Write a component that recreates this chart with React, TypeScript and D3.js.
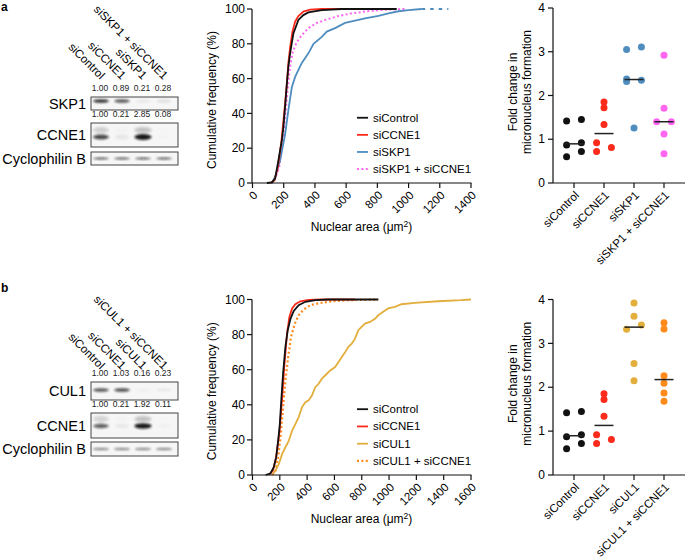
import React from 'react';
import * as d3 from 'd3';

const W = 685, H = 558;
const FONT = "'Liberation Sans', Arial, Helvetica, sans-serif";

// ---------- Blot data ----------
const lanesA = ['siControl', 'siCCNE1', 'siSKP1', 'siSKP1 + siCCNE1'];
const lanesB = ['siControl', 'siCCNE1', 'siCUL1', 'siCUL1 + siCCNE1'];
const skp1Quant = [1.0, 0.89, 0.21, 0.28];
const ccne1QuantA = [1.0, 0.21, 2.85, 0.08];
const cul1Quant = [1.0, 1.03, 0.16, 0.23];
const ccne1QuantB = [1.0, 0.21, 1.92, 0.11];
const cycloQuant = [1, 1, 1, 1];
const quantLabelsA1 = ['1.00', '0.89', '0.21', '0.28'];
const quantLabelsA2 = ['1.00', '0.21', '2.85', '0.08'];
const quantLabelsB1 = ['1.00', '1.03', '0.16', '0.23'];
const quantLabelsB2 = ['1.00', '0.21', '1.92', '0.11'];

// ---------- CDF data (nuclear area um^2, cumulative %) ----------
const cdfCtrlA: [number, number][] = [[92,0],[124,0.4],[145,2.5],[166,13],[188,24.6],[198,32],[209,44],[220,57],[230,67],[241,74.5],[262,86],[294,93.7],[326,96.5],[358,98],[444,99.4],[572,100],[924,100]];
const cdfCcneA: [number, number][] = [[113,0],[141,1.5],[162,9],[184,22.6],[205,42],[220,57],[230,69],[241,78],[256,87],[273,92.7],[294,96],[326,98.5],[369,99.6],[444,100],[700,100]];
const cdfSkpA: [number, number][] = [[124,0],[145,3.5],[177,13],[209,28],[230,42],[252,55],[273,61],[316,69],[358,74.5],[391,80],[444,84],[476,87],[529,89],[593,92],[657,93.3],[721,94.6],[807,96],[871,97.5],[935,98.7],[999,99.4],[1084,100]];
const cdfSkpTailA: [number, number][] = [[1084,100],[1255,100]];
const cdfSkpCcneA: [number, number][] = [[124,0],[149,3.5],[171,9],[192,22.6],[213,42],[226,55],[241,67],[258,75.4],[284,81],[316,85],[358,89],[412,92],[476,94],[551,96],[636,97.5],[742,98.8],[849,99.6],[977,100]];

const cdfCtrlB: [number, number][] = [[96,0],[132,1],[156,4.4],[173,10],[188,19.6],[200,29],[212,44],[224,58],[241,73],[258,82.5],[278,89],[302,93.5],[338,96.8],[387,98.7],[460,99.6],[557,100],[921,100]];
const cdfCcneB: [number, number][] = [[120,0],[149,2.5],[173,10],[198,25],[217,44],[234,63],[253,80.6],[270,90],[290,94.9],[314,97.3],[350,99],[411,99.8],[508,100],[751,100]];
const cdfCulB: [number, number][] = [[144,0],[168,2.5],[193,6.3],[217,12],[241,15.8],[266,19.6],[290,25.3],[314,29],[338,33],[363,38.7],[387,41.5],[411,42.5],[435,45.3],[460,50],[484,52],[508,54.9],[545,57.7],[569,59.6],[605,61.5],[630,64.4],[654,67.2],[678,70],[702,73],[727,74.9],[751,77.7],[775,82.5],[799,84.4],[824,86.3],[860,87.2],[897,89],[921,91],[957,93],[994,94.9],[1042,95.8],[1091,97.3],[1188,98.1],[1358,99],[1528,99.6],[1600,100]];
const cdfCulCcneB: [number, number][] = [[144,0],[168,2.5],[188,10],[207,23],[224,38.7],[241,54],[261,67],[282,78.7],[309,86],[338,91],[375,94.3],[424,96.8],[496,98],[581,99],[702,99.6],[921,100]];

const cdfTicksA = [0, 200, 400, 600, 800, 1000, 1200, 1400];
const cdfTicksB = [0, 200, 400, 600, 800, 1000, 1200, 1400, 1600];
const pctTicks = [0, 20, 40, 60, 80, 100];

// ---------- Micronucleus fold change ----------
const dotGroupsA = ['siControl', 'siCCNE1', 'siSKP1', 'siSKP1 + siCCNE1'];
const dotGroupsB = ['siControl', 'siCCNE1', 'siCUL1', 'siCUL1 + siCCNE1'];
const mnControl = [1.42, 1.45, 0.87, 0.92, 0.6, 0.72];
const mnCCNE1 = [1.85, 1.72, 1.34, 0.92, 0.72, 0.81];
const mnSKP1 = [3.05, 3.11, 2.38, 2.32, 2.35, 1.26];
const mnSKP1CCNE1 = [2.92, 1.71, 1.4, 1.4, 1.12, 0.67];
const mnCUL1 = [3.92, 3.62, 3.32, 3.42, 2.54, 2.15];
const mnCUL1CCNE1 = [3.47, 3.33, 2.26, 2.09, 1.87, 1.68];
const foldTicks = [0, 1, 2, 3, 4];

const C = {
  black: '#111111',
  red: '#fb2b1c',
  blue: '#4f8dbf',
  pink: '#ff66f0',
  gold: '#e2ae3c',
  orange: '#ff8a1c',
};

// ---------- helpers ----------
function beeswarm(vals: number[], y: (v: number) => number, thr: number) {
  const idx = vals.map((_, i) => i).sort((a, b) => vals[a] - vals[b]);
  const slot = new Array(vals.length).fill(0);
  let chain: number[] = [idx[0]];
  const flush = () => {
    if (chain.length > 1) chain.forEach((k, j) => (slot[k] = j % 2 === 0 ? -1 : 1));
  };
  for (let i = 1; i < idx.length; i++) {
    if (Math.abs(y(vals[idx[i]]) - y(vals[idx[i - 1]])) < thr) chain.push(idx[i]);
    else {
      flush();
      chain = [idx[i]];
    }
  }
  flush();
  return slot;
}

type BlotRow = {
  name: string;
  top: number;
  bottom: number;
  bandY: number;
  quant: number[];
  labels?: string[];
  gain: number;
  pow: number;
  ry: number;
  smear?: boolean;
  thin?: boolean;
};

function Blot({ lanes, letter, letterY, labelY, rows }: { lanes: string[]; letter: string; letterY: number; labelY: number; rows: BlotRow[] }) {
  const x = d3.scalePoint<string>().domain(lanes).range([101, 164]);
  const boxL = 91, boxR = 178;
  return (
    <g>
      <text x={1} y={letterY} fontWeight="bold" fontSize={12}>{letter}</text>
      {lanes.map((l) => (
        <text key={l} transform={`translate(${(x(l) as number) - 1},${labelY}) rotate(45)`} textAnchor="end" fontSize={11.6}>{l}</text>
      ))}
      {rows.map((r) => (
        <g key={r.name}>
          <text x={86} y={(r.top + r.bottom) / 2} dy="0.35em" textAnchor="end" fontSize={14.5}>{r.name}</text>
          {r.labels && r.labels.map((t, i) => (
            <text key={i} x={(x(lanes[i]) as number) - 1} y={r.top - 6} textAnchor="middle" fontSize={8.5} fill="#222">{t}</text>
          ))}
          <rect x={boxL} y={r.top} width={boxR - boxL} height={r.bottom - r.top} fill="#f6f6f6" />
          <g filter="url(#blur)">
            {r.quant.map((v, i) => {
              const op = Math.min(0.95, r.gain * Math.pow(v, r.pow));
              const big = Math.min(v, 2);
              const rx = r.thin ? 8 : 7 + 0.8 * big;
              const ry = r.thin ? r.ry : r.ry + (r.smear ? 0.5 * Math.max(0, big - 1) : 0);
              return (
                <g key={i}>
                  {r.smear && <ellipse cx={x(lanes[i]) as number} cy={r.bandY - 7} rx={rx} ry={3} fill="#222" opacity={op * 0.25} />}
                  <ellipse cx={x(lanes[i]) as number} cy={r.bandY} rx={rx} ry={ry} fill="#111" opacity={op} />
                </g>
              );
            })}
          </g>
          <rect x={boxL} y={r.top} width={boxR - boxL} height={r.bottom - r.top} fill="none" stroke="#444" strokeWidth={1} />
        </g>
      ))}
    </g>
  );
}

type Series = { name: string; data: [number, number][]; color: string; dash?: string; width?: number; tail?: [number, number][] };

function CDF({ xMax, ticks, yTop, yBot, series }: { xMax: number; ticks: number[]; yTop: number; yBot: number; series: Series[] }) {
  const x = d3.scaleLinear().domain([0, xMax]).range([252.5, 471]);
  const y = d3.scaleLinear().domain([0, 100]).range([yBot, yTop]);
  const line = d3.line<[number, number]>().x((d) => x(d[0])).y((d) => y(d[1]));
  const legY = d3.scalePoint<string>().domain(series.map((s) => s.name)).range([yBot - (yBot - yTop) * 0.375, yBot - (yBot - yTop) * 0.08]);
  const midY = (yTop + yBot) / 2;
  return (
    <g>
      {series.slice().reverse().map((s) => (
        <g key={s.name}>
          <path d={line(s.data) || ''} fill="none" stroke={s.color} strokeWidth={s.width || 1.8} strokeDasharray={s.dash} />
          {s.tail && <path d={line(s.tail) || ''} fill="none" stroke={s.color} strokeWidth={1.8} strokeDasharray="3.5,5" />}
        </g>
      ))}
      <line x1={252} x2={252} y1={yTop} y2={yBot} stroke="#111" strokeWidth={1.2} />
      <line x1={252} x2={471.5} y1={yBot} y2={yBot} stroke="#111" strokeWidth={1.2} />
      {pctTicks.map((t) => (
        <g key={t}>
          <line x1={247} x2={252} y1={y(t)} y2={y(t)} stroke="#111" strokeWidth={1.2} />
          <text x={245} y={y(t)} dy="0.35em" textAnchor="end" fontSize={12}>{t}</text>
        </g>
      ))}
      {ticks.map((t) => (
        <g key={t}>
          <line x1={x(t)} x2={x(t)} y1={yBot} y2={yBot + 5} stroke="#111" strokeWidth={1.2} />
          <text transform={`translate(${x(t) + 3},${yBot + 10}) rotate(-45)`} dy="0.35em" textAnchor="end" fontSize={11.5}>{t}</text>
        </g>
      ))}
      <text transform={`translate(216,${midY + 4}) rotate(-90)`} textAnchor="middle" fontSize={12}>Cumulative frequency (%)</text>
      <text x={361.5} y={yBot + 48} textAnchor="middle" fontSize={12}>
        Nuclear area (μm<tspan dy="-4" fontSize={8.5}>2</tspan><tspan dy="4">)</tspan>
      </text>
      {series.map((s) => (
        <g key={s.name}>
          <line x1={357} x2={368} y1={legY(s.name)} y2={legY(s.name)} stroke={s.color} strokeWidth={s.width || 1.8} strokeDasharray={s.dash} />
          <text x={373} y={legY(s.name)} dy="0.35em" fontSize={11.5}>{s.name}</text>
        </g>
      ))}
    </g>
  );
}

function DotPlot({ groups, values, colors, yTop, yBot }: { groups: string[]; values: number[][]; colors: string[]; yTop: number; yBot: number }) {
  const x = d3.scalePoint<string>().domain(groups).range([574, 664]);
  const y = d3.scaleLinear().domain([0, 4]).range([yBot, yTop]);
  const midY = (yTop + yBot) / 2 - 3.5;
  return (
    <g>
      <line x1={553} x2={553} y1={yTop} y2={yBot} stroke="#111" strokeWidth={1.2} />
      <line x1={553} x2={685} y1={yBot} y2={yBot} stroke="#111" strokeWidth={1.2} />
      {foldTicks.map((t) => (
        <g key={t}>
          <line x1={548} x2={553} y1={y(t)} y2={y(t)} stroke="#111" strokeWidth={1.2} />
          <text x={545} y={y(t)} dy="0.35em" textAnchor="end" fontSize={12}>{t}</text>
        </g>
      ))}
      {groups.map((g, gi) => {
        const vals = values[gi];
        const slots = beeswarm(vals, y, 5.5);
        const cx = x(g) as number;
        const med = d3.median(vals) as number;
        return (
          <g key={g}>
            <line x1={cx} x2={cx} y1={yBot} y2={yBot + 5} stroke="#111" strokeWidth={1.2} />
            <text transform={`translate(${cx + 3},${yBot + 10}) rotate(-45)`} dy="0.35em" textAnchor="end" fontSize={11.5}>{g}</text>
            {vals.map((v, i) => (
              <circle key={i} cx={cx + slots[i] * 7.4} cy={y(v)} r={3.5} fill={colors[gi]} />
            ))}
            <line x1={cx - 9.5} x2={cx + 9.5} y1={y(med)} y2={y(med)} stroke="#222" strokeWidth={1.5} />
          </g>
        );
      })}
      <text transform={`translate(517,${midY}) rotate(-90)`} textAnchor="middle" fontSize={12}>Fold change in</text>
      <text transform={`translate(531,${midY}) rotate(-90)`} textAnchor="middle" fontSize={12}>micronucleus formation</text>
    </g>
  );
}

export default function App() {
  return (
    <svg width={W} height={H} viewBox={`0 0 ${W} ${H}`} style={{ position: 'absolute', left: 0, top: 0, background: '#fff' }} fontFamily={FONT}>
      <defs>
        <filter id="blur" x="-20%" y="-50%" width="140%" height="200%">
          <feGaussianBlur stdDeviation="1.1" />
        </filter>
      </defs>
      <rect width={W} height={H} fill="#fff" />

      {/* Panel a */}
      <Blot
        lanes={lanesA}
        letter="a"
        letterY={11}
        labelY={80}
        rows={[
          { name: 'SKP1', top: 97, bottom: 110, bandY: 101, quant: skp1Quant, labels: quantLabelsA1, gain: 0.85, pow: 1.8, ry: 1.8 },
          { name: 'CCNE1', top: 123, bottom: 147, bandY: 137, quant: ccne1QuantA, labels: quantLabelsA2, gain: 0.75, pow: 1.6, ry: 2.4, smear: true },
          { name: 'Cyclophilin B', top: 152, bottom: 165, bandY: 158.5, quant: cycloQuant, gain: 0.6, pow: 1, ry: 1.2, thin: true },
        ]}
      />
      <CDF
        xMax={1400}
        ticks={cdfTicksA}
        yTop={9}
        yBot={183}
        series={[
          { name: 'siControl', data: cdfCtrlA, color: C.black },
          { name: 'siCCNE1', data: cdfCcneA, color: C.red },
          { name: 'siSKP1', data: cdfSkpA, color: C.blue, tail: cdfSkpTailA },
          { name: 'siSKP1 + siCCNE1', data: cdfSkpCcneA, color: C.pink, dash: '2,2.4', width: 2 },
        ]}
      />
      <DotPlot groups={dotGroupsA} values={[mnControl, mnCCNE1, mnSKP1, mnSKP1CCNE1]} colors={[C.black, C.red, C.blue, C.pink]} yTop={8} yBot={183} />

      {/* Panel b */}
      <Blot
        lanes={lanesB}
        letter="b"
        letterY={292}
        labelY={370}
        rows={[
          { name: 'CUL1', top: 382, bottom: 400, bandY: 390, quant: cul1Quant, labels: quantLabelsB1, gain: 0.7, pow: 1.8, ry: 1.8 },
          { name: 'CCNE1', top: 413, bottom: 438, bandY: 426, quant: ccne1QuantB, labels: quantLabelsB2, gain: 0.65, pow: 1.6, ry: 2.2, smear: true },
          { name: 'Cyclophilin B', top: 442, bottom: 456, bandY: 449, quant: cycloQuant, gain: 0.55, pow: 1, ry: 1.1, thin: true },
        ]}
      />
      <CDF
        xMax={1600}
        ticks={cdfTicksB}
        yTop={299.5}
        yBot={475}
        series={[
          { name: 'siControl', data: cdfCtrlB, color: C.black },
          { name: 'siCCNE1', data: cdfCcneB, color: C.red },
          { name: 'siCUL1', data: cdfCulB, color: C.gold },
          { name: 'siCUL1 + siCCNE1', data: cdfCulCcneB, color: C.orange, dash: '2,2.4', width: 2.2 },
        ]}
      />
      <DotPlot groups={dotGroupsB} values={[mnControl, mnCCNE1, mnCUL1, mnCUL1CCNE1]} colors={[C.black, C.red, C.gold, C.orange]} yTop={299.5} yBot={475} />
    </svg>
  );
}
